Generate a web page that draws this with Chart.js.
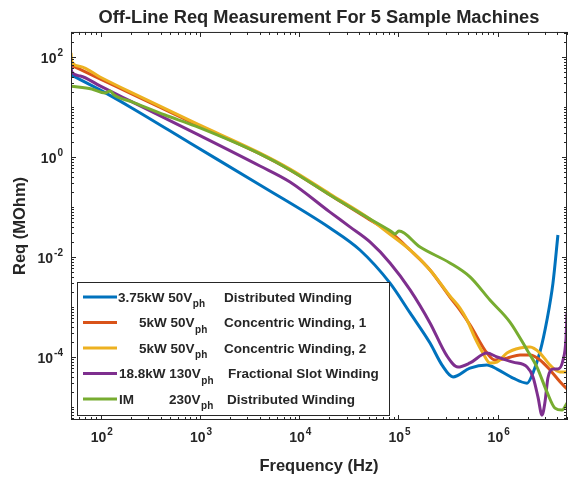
<!DOCTYPE html>
<html>
<head>
<meta charset="utf-8">
<script src="https://cdn.jsdelivr.net/npm/chart.js@4.4.1/dist/chart.umd.min.js"></script>
<style>
html, body { margin: 0; padding: 0; background: #fff; }
</style>
</head>
<body>
<canvas id="graph" width="570" height="477"></canvas>
<script>
// values (frequency in Hz, Req in MOhm)
const freqDist375 = [50, 98, 197, 792, 4020, 20400, 40900, 82200, 131000, 208000, 275000, 355000, 526000, 780000, 984000, 1.43e6, 1.98e6, 2.27e6, 2.67e6, 3.14e6, 3.61e6, 4.05e6];
const reqDist375 = [43.7, 21.9, 10, 1.9, 0.275, 0.038, 0.0138, 0.0030, 7.6e-4, 1.9e-4, 6.9e-5, 4.0e-5, 6.0e-5, 6.9e-5, 5.75e-5, 3.8e-5, 3.0e-5, 4.8e-5, 1.26e-4, 5.5e-4, 3.0e-3, 0.0275];

const freqConc1 = [50, 98, 197, 889, 4020, 8070, 20400, 51600, 82200, 131000, 208000, 330000, 417000, 526000, 780000, 940000, 1.24e6, 1.68e6, 2.12e6, 2.67e6, 3.37e6, 4.25e6, 5e6];
const reqConc1 = [69, 36.3, 19, 4.57, 1.15, 0.55, 0.174, 0.055, 0.0316, 0.0138, 5.5e-3, 1.58e-3, 8.7e-4, 4.4e-4, 1.2e-4, 8.7e-5, 9.5e-5, 1.1e-4, 1.1e-4, 8.7e-5, 5.5e-5, 3.2e-5, 2.3e-5];

const freqConc2 = [50, 51, 62, 98, 197, 889, 4020, 8070, 20400, 51600, 76700, 131000, 208000, 330000, 417000, 491000, 591000, 711000, 836000, 984000, 1.24e6, 1.68e6, 2.12e6, 2.67e6, 3.37e6, 4.25e6, 5e6];
const reqConc2 = [120, 79, 64.6, 39.8, 20, 4.8, 1.2, 0.575, 0.182, 0.0575, 0.0316, 0.0138, 5.5e-3, 1.66e-3, 9.5e-4, 5.5e-4, 2.4e-4, 1.2e-4, 7.6e-5, 7.9e-5, 1.2e-4, 1.51e-4, 1.58e-4, 1.2e-4, 6.9e-5, 5.0e-5, 5.0e-5];

const freqFrac188 = [50, 51, 62, 98, 197, 889, 4020, 8070, 20400, 32400, 51600, 82200, 131000, 208000, 308000, 398000, 526000, 780000, 984000, 1.43e6, 1.98e6, 2.27e6, 2.55e6, 2.8e6, 3.0e6, 3.21e6, 3.61e6, 4.05e6, 4.56e6, 4.89e6, 5e6];
const reqFrac188 = [63, 50, 41.7, 26.3, 13.2, 3.0, 0.66, 0.316, 0.079, 0.040, 0.020, 0.0076, 0.0022, 4.8e-4, 1.05e-4, 6.3e-5, 7.6e-5, 1.2e-4, 1.0e-4, 7.9e-5, 6.3e-5, 4.0e-5, 1.58e-5, 6.9e-6, 1.26e-5, 3.8e-5, 5.75e-5, 5.75e-5, 8.7e-5, 2.4e-4, 7.9e-4];

const freqIM = [50, 81, 110, 124, 136, 206, 443, 889, 4020, 8070, 20400, 51600, 86100, 92300, 101000, 165000, 330000, 526000, 836000, 1.33e6, 1.98e6, 2.49e6, 3.14e6, 3.78e6, 4.46e6, 5e6];
const reqIM = [26, 22.9, 19, 20.9, 17.4, 12.6, 6.9, 4.17, 1.15, 0.55, 0.174, 0.0575, 0.0316, 0.0288, 0.033, 0.0158, 0.0076, 0.0040, 1.38e-3, 5.0e-4, 1.38e-4, 6.3e-5, 2.0e-5, 9.5e-6, 8.7e-6, 1.2e-5];

const seriesColors = ['#0072BD', '#D95319', '#EDB120', '#7E2F8E', '#77AC30'];
const legendMachine = ['3.75kW 50V', '5kW 50V', '5kW 50V', '18.8kW 130V', 'IM'];
const legendVolt = ['', '', '', '', '230V'];
const legendWinding = ['Distributed Winding', 'Concentric Winding, 1', 'Concentric Winding, 2', 'Fractional Slot Winding', 'Distributed Winding'];
const xTickExp = [2, 3, 4, 5, 6];
const yTickExp = [-4, -2, 0, 2];

const INK = '#262626';
const FONT = "'Liberation Sans', Arial, Helvetica, sans-serif";

const pts = (f, r) => f.map((v, i) => ({x: v, y: r[i]}));
const allFreq = [freqDist375, freqConc1, freqConc2, freqFrac188, freqIM];
const allReq = [reqDist375, reqConc1, reqConc2, reqFrac188, reqIM];

function drawPower(ctx, exp, x, y, align) {
  ctx.font = `bold 14px ${FONT}`;
  const wb = ctx.measureText('10').width;
  ctx.font = `bold 10px ${FONT}`;
  const we = ctx.measureText(String(exp)).width;
  const total = wb + we + 1;
  const left = align === 'center' ? x - total / 2 : x - total;
  ctx.textAlign = 'left';
  ctx.textBaseline = 'alphabetic';
  ctx.font = `bold 14px ${FONT}`;
  ctx.fillText('10', left, y);
  ctx.font = `bold 10px ${FONT}`;
  ctx.fillText(String(exp), left + wb + 1, y - 7);
}

const axesBox = {
  id: 'axesBox',
  afterDatasetsDraw(chart) {
    const {ctx, chartArea: a, scales: {x, y}} = chart;
    ctx.save();
    ctx.strokeStyle = INK;
    ctx.lineWidth = 1;
    ctx.beginPath();
    for (let d = 1; d <= 6; d++) {
      for (let k = 1; k <= 9; k++) {
        const v = k * Math.pow(10, d);
        if (v < x.min || v > x.max) continue;
        const px = Math.round(x.getPixelForValue(v)) + 0.5;
        const len = k === 1 ? 5 : 3;
        ctx.moveTo(px, a.bottom); ctx.lineTo(px, a.bottom - len);
        ctx.moveTo(px, a.top); ctx.lineTo(px, a.top + len);
      }
    }
    for (let d = -6; d <= 2; d++) {
      for (let k = 1; k <= 9; k++) {
        const v = k * Math.pow(10, d);
        if (v < y.min || v > y.max) continue;
        const py = Math.round(y.getPixelForValue(v)) + 0.5;
        const len = (k === 1 && d % 2 === 0) ? 5 : 3;
        ctx.moveTo(a.left, py); ctx.lineTo(a.left + len, py);
        ctx.moveTo(a.right, py); ctx.lineTo(a.right - len, py);
      }
    }
    ctx.stroke();
    ctx.strokeRect(a.left + 0.5, a.top + 0.5, a.right - a.left - 1, a.bottom - a.top - 1);

    ctx.fillStyle = INK;
    xTickExp.forEach(e => drawPower(ctx, e, x.getPixelForValue(Math.pow(10, e)) + 1, a.bottom + 22, 'center'));
    yTickExp.forEach(e => drawPower(ctx, e, a.left - 8, y.getPixelForValue(Math.pow(10, e)) + 6, 'right'));
    ctx.restore();
  },
  afterDraw(chart) {
    const {ctx} = chart;
    const box = {left: 77.5, top: 282.5, right: 389.5, bottom: 415.5};
    const rowY = i => 297 + i * 25.5;
    const machineX = [118, 139, 139, 119, 119];
    const windingX = [224, 224, 224, 228, 227];
    ctx.save();
    ctx.fillStyle = '#fff';
    ctx.fillRect(box.left, box.top, box.right - box.left, box.bottom - box.top);
    ctx.strokeStyle = INK;
    ctx.lineWidth = 1;
    ctx.strokeRect(box.left, box.top, box.right - box.left, box.bottom - box.top);
    for (let i = 0; i < legendMachine.length; i++) {
      const yy = rowY(i);
      ctx.strokeStyle = seriesColors[i];
      ctx.lineWidth = 3;
      ctx.beginPath();
      ctx.moveTo(83, yy); ctx.lineTo(117, yy);
      ctx.stroke();

      ctx.fillStyle = INK;
      ctx.textAlign = 'left';
      ctx.textBaseline = 'alphabetic';
      ctx.font = `bold 13.5px ${FONT}`;
      let tx = machineX[i];
      ctx.fillText(legendMachine[i], tx, yy + 4.5);
      tx += ctx.measureText(legendMachine[i]).width;
      if (legendVolt[i]) {
        tx = 169;
        ctx.fillText(legendVolt[i], tx, yy + 4.5);
        tx += ctx.measureText(legendVolt[i]).width;
      }
      ctx.font = `bold 10px ${FONT}`;
      ctx.fillText('ph', tx + 0.5, yy + 10);
      ctx.font = `bold 13.5px ${FONT}`;
      ctx.fillText(legendWinding[i], windingX[i], yy + 4.5);
    }
    ctx.restore();
  }
};

const datasets = allFreq.map((f, i) => ({
  label: legendMachine[i] + ' ' + legendWinding[i],
  data: pts(f, allReq[i]),
  borderColor: seriesColors[i],
  backgroundColor: seriesColors[i],
  borderWidth: 3,
  pointRadius: 0,
  fill: false,
  cubicInterpolationMode: 'monotone',
  order: allFreq.length - i
}));

new Chart(document.querySelector('#graph'), {
  type: 'line',
  data: {datasets},
  options: {
    responsive: false,
    devicePixelRatio: 1,
    animation: false,
    events: [],
    layout: {padding: {left: 0, right: 3, top: 0, bottom: 0}},
    plugins: {
      legend: {display: false},
      tooltip: {enabled: false},
      title: {
        display: true,
        text: 'Off-Line Req Measurement For 5 Sample Machines',
        color: INK,
        fullSize: false,
        font: {family: FONT, size: 18.3, weight: 'bold'},
        padding: {top: 7, bottom: 3}
      }
    },
    scales: {
      x: {
        type: 'logarithmic',
        min: 50,
        max: 5e6,
        bounds: 'data',
        grid: {display: false},
        border: {display: false},
        ticks: {display: false},
        title: {
          display: true,
          text: 'Frequency (Hz)',
          color: INK,
          font: {family: FONT, size: 16.5, weight: 'bold'},
          padding: {top: 0, bottom: 1}
        },
        afterFit: s => { s.height = 57; }
      },
      y: {
        type: 'logarithmic',
        min: 5.5e-6,
        max: 316,
        bounds: 'data',
        grid: {display: false},
        border: {display: false},
        ticks: {display: false},
        title: {
          display: true,
          text: 'Req (MOhm)',
          color: INK,
          font: {family: FONT, size: 16.5, weight: 'bold'},
          padding: {top: 11, bottom: 0}
        },
        afterFit: s => { s.width = 71; }
      }
    }
  },
  plugins: [axesBox]
});
</script>
</body>
</html>
